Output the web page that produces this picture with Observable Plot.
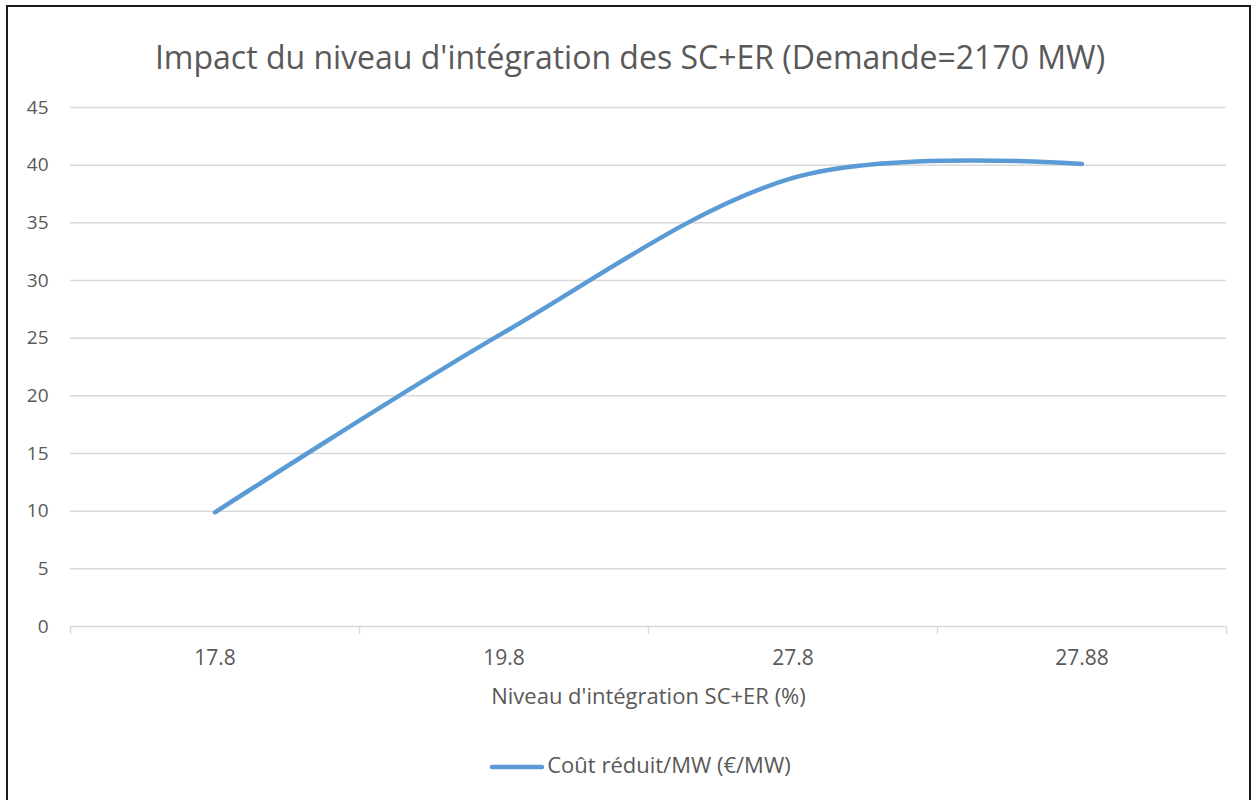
<!DOCTYPE html>
<html>
<head>
<meta charset="utf-8">
<script src="https://cdn.jsdelivr.net/npm/d3@7"></script>
<script src="https://cdn.jsdelivr.net/npm/@observablehq/plot@0.6"></script>
<style>
  html, body { margin: 0; padding: 0; background: #fff; overflow: hidden; }
  body { width: 1255px; height: 800px; position: relative; font-family: "Open Sans", sans-serif; color: #595959; }
  #frame { position: absolute; left: 6px; top: 5px; width: 1245px; height: 820px; border: 2px solid #1a1a1a; box-sizing: border-box; }
  #title { position: absolute; left: 0; width: 1260px; top: 35px; text-align: center; font-size: 32px; line-height: 44px; color: #595959; white-space: nowrap; }
  #chart { position: absolute; left: 0; top: 90px; }
  #legend { position: absolute; top: 750px; left: 0; width: 1280px; text-align: center; font-size: 22px; line-height: 28px; white-space: nowrap; }
  #legend svg { vertical-align: middle; margin-right: 2px; }
</style>
</head>
<body>
<div id="frame"></div>
<div id="title"></div>
<div id="chart"></div>
<div id="legend"></div>
<script>
const titleText = "Impact du niveau d'intégration des SC+ER (Demande=2170 MW)";
const xTitle = "Niveau d'intégration SC+ER (%)";
const seriesName = "Coût réduit/MW (€/MW)";
const categories = ["17.8", "19.8", "27.8", "27.88"];
const values = [9.9, 25.5, 38.9, 40.1];
const yTicks = [0, 5, 10, 15, 20, 25, 30, 35, 40, 45];

const lineColor = "#5b9bd5";
const gridColor = "#d9d9d9";
const textColor = "#595959";

const data = categories.map((c, i) => ({i, c, v: values[i]}));
const idx = categories.map((c, i) => i);
const boundaries = [-0.5, ...idx.map(i => i + 0.5)];

document.getElementById("title").textContent = titleText;

const chart = Plot.plot({
  width: 1255,
  height: 640,
  marginTop: 17,
  marginBottom: 104,
  marginLeft: 70,
  marginRight: 29,
  x: {type: "linear", domain: [-0.5, categories.length - 0.5]},
  y: {domain: [0, 45]},
  style: {fontFamily: "Open Sans, sans-serif", fontSize: "19px", color: textColor, background: "transparent"},
  marks: [
    Plot.gridY(yTicks.filter(t => t > 0), {stroke: gridColor, strokeOpacity: 1, strokeWidth: 1.5}),
    Plot.axisY(yTicks, {tickSize: 0, tickPadding: 22, fontSize: 19, fill: textColor, label: null}),
    Plot.ruleY([0], {stroke: gridColor, strokeWidth: 1.5}),
    Plot.axisX(boundaries, {tickSize: 8, tickFormat: () => "", stroke: gridColor, strokeWidth: 1.5, label: null}),
    Plot.axisX(idx, {tickSize: 0, tickPadding: 24, tickFormat: i => categories[i], fontSize: 21, fill: textColor, label: null}),
    Plot.text([xTitle], {frameAnchor: "bottom", dy: 70, fontSize: 22, fill: textColor, lineAnchor: "middle"}),
    Plot.line(data, {x: "i", y: "v", curve: "cardinal", stroke: lineColor, strokeWidth: 4.5, strokeLinecap: "round", strokeLinejoin: "round"})
  ]
});
document.getElementById("chart").appendChild(chart);

const legend = document.getElementById("legend");
legend.innerHTML = `<svg width="56" height="10"><line x1="3" y1="5" x2="53" y2="5" stroke="${lineColor}" stroke-width="4.5" stroke-linecap="round"/></svg><span></span>`;
legend.querySelector("span").textContent = seriesName;
</script>
</body>
</html>
